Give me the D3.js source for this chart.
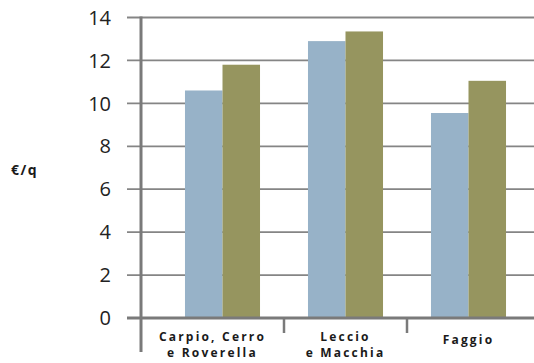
<!DOCTYPE html>
<html><head><meta charset="utf-8">
<script src="https://cdn.jsdelivr.net/npm/d3@7"></script>
<style>html,body{margin:0;padding:0;background:#fff;}svg{display:block;}</style>
</head><body>
<svg id="c" width="534" height="363"></svg>
<script>
const categories = [["Carpio, Cerro","e Roverella"],["Leccio","e Macchia"],["Faggio"]];
const categoryKeys = ["Carpio, Cerro e Roverella","Leccio e Macchia","Faggio"];
const seriesA = [10.6, 12.9, 9.55];
const seriesB = [11.8, 13.35, 11.05];
const yTicks = [0,2,4,6,8,10,12,14];
const yLabel = "€/q";

const svg = d3.select("#c");
const W = 534, H = 363;
const axisX = 141;
const y = d3.scaleLinear().domain([0,14]).range([318,17.5]);
const x = d3.scaleBand().domain(categoryKeys).range([161,530]).paddingInner(0.39).paddingOuter(0.195);
const xs = d3.scaleBand().domain(["a","b"]).range([0, x.bandwidth()]);
const step = x.step();

// gridlines
svg.append("g").selectAll("line").data(yTicks.filter(d=>d>0)).join("line")
  .attr("x1",127).attr("x2",W).attr("y1",d=>y(d)).attr("y2",d=>y(d))
  .attr("stroke","#858585").attr("stroke-width",1.8);

// y tick labels
svg.append("g").selectAll("text").data(yTicks).join("text")
  .attr("x",111).attr("y",d=>y(d)).attr("dy","0.36em")
  .attr("text-anchor","end").attr("font-family","'Open Sans', sans-serif")
  .attr("font-size",20).attr("fill","#222").text(d=>d);

// bars
const groups = svg.append("g").selectAll("g").data(categoryKeys).join("g")
  .attr("transform",d=>`translate(${x(d)},0)`);
groups.append("rect").attr("x",xs("a")).attr("width",xs.bandwidth())
  .attr("y",(d,i)=>y(seriesA[i])).attr("height",(d,i)=>y(0)-y(seriesA[i])).attr("fill","#97b2c8");
groups.append("rect").attr("x",xs("b")).attr("width",xs.bandwidth())
  .attr("y",(d,i)=>y(seriesB[i])).attr("height",(d,i)=>y(0)-y(seriesB[i])).attr("fill","#96955f");

// baseline
svg.append("line").attr("x1",127).attr("x2",W).attr("y1",y(0)).attr("y2",y(0))
  .attr("stroke","#7a7a7a").attr("stroke-width",3);
// y axis line
svg.append("line").attr("x1",axisX).attr("x2",axisX).attr("y1",y(14)-1).attr("y2",352)
  .attr("stroke","#7a7a7a").attr("stroke-width",3);
// category dividers
svg.append("g").selectAll("line").data(categoryKeys.slice(1)).join("line")
  .attr("x1",d=>x(d)-x.step()*x.paddingInner()/2).attr("x2",d=>x(d)-x.step()*x.paddingInner()/2)
  .attr("y1",y(0)).attr("y2",333).attr("stroke","#7a7a7a").attr("stroke-width",2.5);

// category labels
const bounds = categoryKeys.map((d,i)=>{
  const start = x(d)-x.step()*x.paddingInner()/2;
  const left = i===0 ? axisX : start;
  return (left + start + step)/2;
});
const lab = svg.append("g").selectAll("text").data(categories).join("text")
  .attr("text-anchor","middle").attr("font-family","'Open Sans', sans-serif")
  .attr("font-weight","bold").attr("font-size",12).attr("letter-spacing",2.2).attr("fill","#1a1a1a")
  .attr("transform",(d,i)=>`translate(${bounds[i]},${d.length>1?340.5:344})`);
lab.selectAll("tspan").data(d=>d).join("tspan").attr("x",0).attr("dy",(d,i)=>i===0?0:16.5).text(d=>d);

// y axis title
svg.append("text").attr("x",11).attr("y",175).attr("font-family","'Open Sans', sans-serif")
  .attr("font-weight","bold").attr("font-size",14).attr("letter-spacing",1.5).attr("fill","#1a1a1a").text(yLabel);
</script>
</body></html>
